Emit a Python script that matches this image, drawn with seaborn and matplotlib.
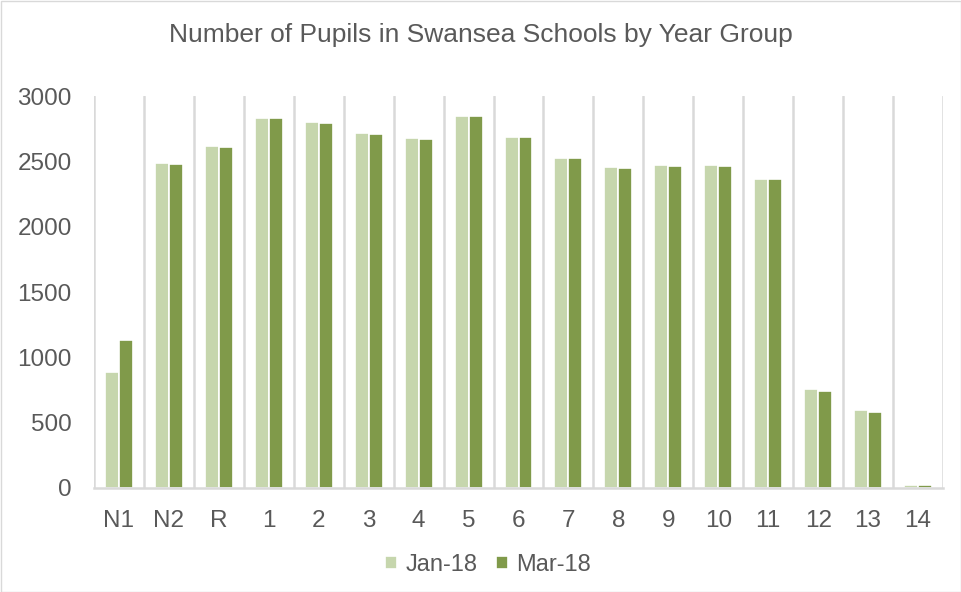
import matplotlib
matplotlib.use("Agg")
import matplotlib.pyplot as plt
import seaborn as sns
import pandas as pd
import numpy as np
from matplotlib.patches import Rectangle

categories = ["N1", "N2", "R", "1", "2", "3", "4", "5", "6", "7", "8", "9", "10", "11", "12", "13", "14"]
jan18 = [890, 2486, 2617, 2832, 2801, 2717, 2678, 2847, 2686, 2525, 2456, 2471, 2471, 2364, 760, 599, 25]
mar18 = [1136, 2479, 2609, 2832, 2793, 2709, 2670, 2847, 2686, 2525, 2448, 2463, 2463, 2364, 744, 583, 25]
series = ["Jan-18", "Mar-18"]
colors = ["#C6D6AD", "#809A4A"]
yticks = [0, 500, 1000, 1500, 2000, 2500, 3000]

df = pd.DataFrame({
    "Year": categories * 2,
    "Pupils": jan18 + mar18,
    "Month": [series[0]] * len(categories) + [series[1]] * len(categories),
})

sns.set_theme(style="white")
plt.rcParams["font.family"] = ["Liberation Sans", "DejaVu Sans"]

fig = plt.figure(figsize=(9.62, 5.92), dpi=100)
ax = fig.add_axes([94 / 962, 1 - 488 / 592, (943 - 94) / 962, (488 - 96) / 592])

sns.barplot(data=df, x="Year", y="Pupils", hue="Month", order=categories,
            hue_order=series, palette=colors, width=0.56, ax=ax,
            edgecolor="white", linewidth=1.2, saturation=1)

ax.set_xlim(-0.5, len(categories) - 0.5)
ax.set_ylim(0, 3000)
ax.set_yticks(yticks)
ax.set_yticklabels([str(v) for v in yticks])
ax.set_xlabel("")
ax.set_ylabel("")

ax.set_xticks(np.arange(-0.5, len(categories), 1.0), minor=True)
ax.grid(False)
ax.grid(True, which="minor", axis="x", color="#D9D9D9", linewidth=1.8)
ax.set_axisbelow(True)
ax.tick_params(axis="both", which="both", length=0, labelsize=17.5, colors="#595959")
ax.tick_params(axis="x", pad=16)
ax.tick_params(axis="y", pad=16)

for s in ["top", "right", "left"]:
    ax.spines[s].set_visible(False)
ax.spines["bottom"].set_color("#D9D9D9")
ax.spines["bottom"].set_linewidth(1.8)

fig.text(0.5, 1 - 35 / 592, "Number of Pupils in Swansea Schools by Year Group",
         ha="center", va="center", fontsize=19, color="#595959")

leg = ax.legend(loc="center", bbox_to_anchor=(488 / 962, 1 - 565 / 592),
                bbox_transform=fig.transFigure, ncol=2, frameon=False,
                fontsize=17, handlelength=0.5, handleheight=0.5, handletextpad=0.35,
                columnspacing=0.8, labelcolor="#595959")

fig.patches.append(Rectangle((0.5 / 962, 0.5 / 592), 1 - 1.5 / 962, 1 - 1.5 / 592,
                             transform=fig.transFigure, fill=False,
                             edgecolor="#D9D9D9", linewidth=1))

fig.savefig("out.png", dpi=100, facecolor="white")
